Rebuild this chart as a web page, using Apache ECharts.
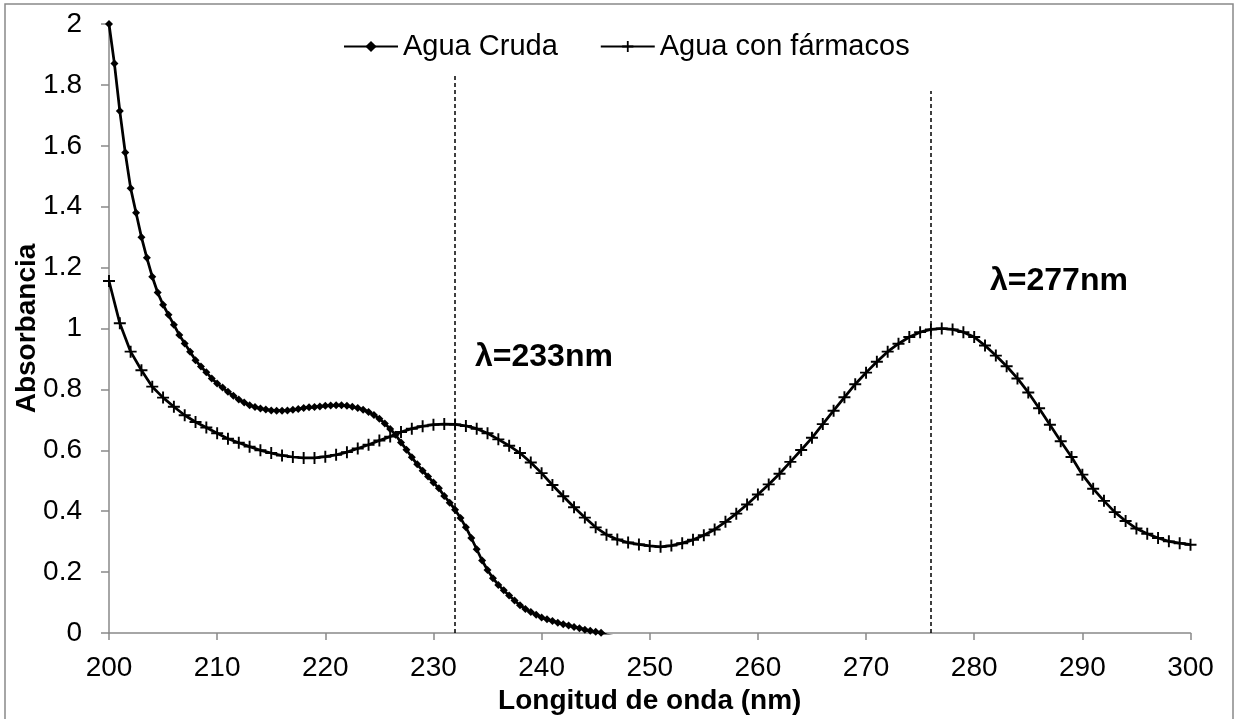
<!DOCTYPE html>
<html><head><meta charset="utf-8">
<script src="https://cdn.jsdelivr.net/npm/echarts@6/dist/echarts.min.js"></script>
<style>html,body{margin:0;padding:0;background:#fff}#c{width:1238px;height:719px}</style>
</head><body><div id="c"></div>
<script>
const crudaX = [200,200.5,201,201.5,202,202.5,203,203.5,204,204.5,205,205.5,206,206.5,207,207.5,208,208.5,209,209.5,
  210,210.5,211,211.5,212,212.5,213,213.5,214,214.5,215,215.5,216,216.5,217,217.5,218,218.5,219,219.5,
  220,220.5,221,221.5,222,222.5,223,223.5,224,224.5,225,225.5,226,226.5,227,227.5,228,228.5,229,229.5,
  230,230.5,231,231.5,232,232.5,233,233.5,234,234.5,235,235.5,236,236.5,237,237.5,238,238.5,239,239.5,
  240,240.5,241,241.5,242,242.5,243,243.5,244,244.5,245,245.5,246,246.5,247];
const crudaY = [2.000,1.870,1.714,1.578,1.461,1.380,1.300,1.232,1.170,1.118,1.078,1.045,1.012,0.979,0.951,0.924,0.896,0.875,0.856,0.836,
  0.819,0.806,0.792,0.779,0.767,0.757,0.748,0.742,0.737,0.734,0.731,0.730,0.730,0.731,0.733,0.736,0.739,0.741,0.742,0.744,
  0.746,0.747,0.748,0.748,0.746,0.743,0.739,0.733,0.726,0.716,0.704,0.688,0.670,0.651,0.626,0.602,0.577,0.554,0.533,0.514,
  0.494,0.475,0.450,0.428,0.405,0.378,0.347,0.312,0.275,0.238,0.207,0.180,0.158,0.140,0.123,0.107,0.091,0.079,0.069,0.060,
  0.051,0.045,0.039,0.034,0.029,0.025,0.020,0.016,0.011,0.007,0.004,0.001,-0.006,-0.010,-0.014];
const farmX = [200,201,202,203,204,205,206,207,208,209,210,211,212,213,214,215,216,217,218,219,
  220,221,222,223,224,225,226,227,228,229,230,231,232,233,234,235,236,237,238,239,
  240,241,242,243,244,245,246,247,248,249,250,251,252,253,254,255,256,257,258,259,
  260,261,262,263,264,265,266,267,268,269,270,271,272,273,274,275,276,277,278,279,
  280,281,282,283,284,285,286,287,288,289,290,291,292,293,294,295,296,297,298,299,300];
const farmY = [1.156,1.017,0.924,0.863,0.809,0.773,0.743,0.715,0.693,0.675,0.656,0.638,0.625,0.612,0.600,0.591,0.583,0.578,0.575,0.575,
  0.579,0.585,0.594,0.606,0.618,0.632,0.645,0.660,0.671,0.679,0.684,0.686,0.685,0.680,0.671,0.656,0.636,0.615,0.591,0.560,
  0.525,0.486,0.449,0.413,0.379,0.347,0.323,0.307,0.297,0.291,0.286,0.283,0.287,0.295,0.306,0.321,0.340,0.365,0.392,0.422,
  0.455,0.488,0.523,0.562,0.601,0.641,0.686,0.730,0.774,0.817,0.855,0.891,0.924,0.950,0.972,0.988,0.997,1.000,0.997,0.988,
  0.972,0.944,0.911,0.876,0.836,0.790,0.738,0.684,0.630,0.578,0.520,0.474,0.434,0.397,0.368,0.343,0.326,0.312,0.301,0.295,0.290];
const seriesNames = ['Agua Cruda', 'Agua con fármacos'];
const peakX = [232, 276];
const peakTop = [1.83, 1.78];
const peakLabels = ['λ=233nm', 'λ=277nm'];

const FONT = 'Liberation Sans, Arial, sans-serif';
const PLUS = 'path://M42,0H58V42H100V58H58V100H42V58H0V42H42Z';
const axisGray = '#898989';

const chart = echarts.init(document.getElementById('c'), null, {renderer: 'canvas'});
chart.setOption({
  animation: false,
  backgroundColor: '#fff',
  grid: {left: 109, right: 47.5, top: 24, bottom: 86, outerBoundsMode: 'none', containLabel: false},
  legend: {
    left: 338, top: 27, itemWidth: 54, itemHeight: 14, itemGap: 42,
    textStyle: {fontSize: 29, color: '#000', fontFamily: FONT},
    data: seriesNames
  },
  xAxis: {
    type: 'value', min: 200, max: 300, interval: 10,
    name: 'Longitud de onda (nm)', nameLocation: 'middle', nameGap: 54, nameMoveOverlap: false,
    nameTextStyle: {fontSize: 28, fontWeight: 'bold', color: '#000', fontFamily: FONT},
    axisLine: {show: true, onZero: false, lineStyle: {color: axisGray, width: 1.5}},
    axisTick: {show: true, inside: false, length: 7, lineStyle: {color: axisGray, width: 1.5}},
    axisLabel: {fontSize: 28, color: '#000', fontFamily: FONT, margin: 21},
    splitLine: {show: false}
  },
  yAxis: {
    type: 'value', min: 0, max: 2, interval: 0.2,
    name: 'Absorbancia', nameLocation: 'middle', nameGap: 68, nameRotate: 90, nameMoveOverlap: false,
    nameTextStyle: {fontSize: 28, fontWeight: 'bold', color: '#000', fontFamily: FONT},
    axisLine: {show: true, lineStyle: {color: axisGray, width: 1.5}},
    axisTick: {show: true, inside: false, length: 8, lineStyle: {color: axisGray, width: 1.5}},
    axisLabel: {fontSize: 28, color: '#000', fontFamily: FONT, margin: 27},
    splitLine: {show: false}
  },
  series: [
    {
      name: seriesNames[0], type: 'line',
      data: crudaX.map((x, i) => [x, crudaY[i]]),
      symbol: 'diamond', symbolSize: 8, showSymbol: true,
      lineStyle: {color: '#000', width: 2.75},
      itemStyle: {color: '#000'},
      clip: true, z: 3,
      markLine: {
        silent: true, symbol: 'none', label: {show: false},
        lineStyle: {color: '#000', width: 1.5, type: [4, 3]},
        data: peakX.map((x, i) => [{coord: [x, 0]}, {coord: [x, peakTop[i]]}])
      }
    },
    {
      name: seriesNames[1], type: 'line',
      data: farmX.map((x, i) => [x, farmY[i]]),
      symbol: PLUS, symbolSize: 12, showSymbol: true,
      lineStyle: {color: '#000', width: 2.75},
      itemStyle: {color: '#000'},
      clip: true, z: 2
    }
  ],
  graphic: [
    {type: 'rect', silent: true, z: -1, shape: {x: 5, y: 4, width: 1228, height: 740},
     style: {fill: 'none', stroke: axisGray, lineWidth: 1.5}},
    {type: 'text', silent: true, style: {x: 475, y: 357, text: peakLabels[0], font: 'bold 32px ' + FONT, fill: '#000', verticalAlign: 'middle'}},
    {type: 'text', silent: true, style: {x: 990, y: 281, text: peakLabels[1], font: 'bold 32px ' + FONT, fill: '#000', verticalAlign: 'middle'}}
  ]
});
</script>
</body></html>
